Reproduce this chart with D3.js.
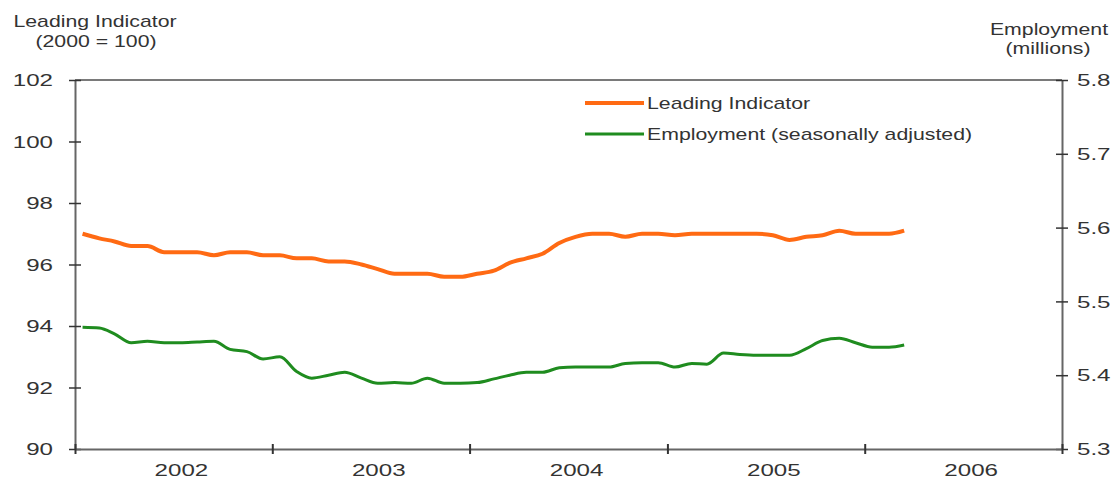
<!DOCTYPE html>
<html>
<head>
<meta charset="utf-8">
<script src="https://cdn.jsdelivr.net/npm/d3@7"></script>
<style>
  html, body { margin: 0; padding: 0; background: #fff; }
  svg { display: block; }
  text { font-family: "Liberation Sans", Arial, sans-serif; fill: #333; }
</style>
</head>
<body>
<svg id="chart" width="1115" height="482"></svg>
<script>
// ---------- data ----------
const months = [
  "2002-01","2002-02","2002-03","2002-04","2002-05","2002-06","2002-07","2002-08","2002-09","2002-10","2002-11","2002-12",
  "2003-01","2003-02","2003-03","2003-04","2003-05","2003-06","2003-07","2003-08","2003-09","2003-10","2003-11","2003-12",
  "2004-01","2004-02","2004-03","2004-04","2004-05","2004-06","2004-07","2004-08","2004-09","2004-10","2004-11","2004-12",
  "2005-01","2005-02","2005-03","2005-04","2005-05","2005-06","2005-07","2005-08","2005-09","2005-10","2005-11","2005-12",
  "2006-01","2006-02","2006-03"
];
const leadingIndicator = [
  97.0, 96.85, 96.75, 96.6, 96.6, 96.4, 96.4, 96.4, 96.3, 96.4, 96.4, 96.3,
  96.3, 96.2, 96.2, 96.1, 96.1, 96.0, 95.85, 95.7, 95.7, 95.7, 95.6, 95.6,
  95.7, 95.8, 96.05, 96.2, 96.35, 96.7, 96.9, 97.0, 97.0, 96.9, 97.0, 97.0,
  96.95, 97.0, 97.0, 97.0, 97.0, 97.0, 96.95, 96.8, 96.9, 96.95, 97.1, 97.0,
  97.0, 97.0, 97.1
];
const employment = [
  5.465, 5.464, 5.456, 5.444, 5.446, 5.444, 5.444, 5.445, 5.446, 5.435, 5.432, 5.422,
  5.425, 5.405, 5.396, 5.400, 5.404, 5.396, 5.389, 5.390, 5.389, 5.396, 5.389, 5.389,
  5.390, 5.395, 5.400, 5.404, 5.404, 5.410, 5.411, 5.411, 5.411, 5.416, 5.417, 5.417,
  5.411, 5.416, 5.415, 5.430, 5.428, 5.427, 5.427, 5.427, 5.436, 5.447, 5.450, 5.444,
  5.438, 5.438, 5.441
];
const yearLabels = ["2002", "2003", "2004", "2005", "2006"];
const yearBoundaries = ["2002", "2003", "2004", "2005", "2006", "2007"];
const leftTicks = [90, 92, 94, 96, 98, 100, 102];
const rightTicks = [5.3, 5.4, 5.5, 5.6, 5.7, 5.8];
const seriesNames = ["Leading Indicator", "Employment (seasonally adjusted)"];
const leftTitle = ["Leading Indicator", "(2000 = 100)"];
const rightTitle = ["Employment", "(millions)"];

// ---------- layout ----------
const L = 75, R = 1062, T = 80, B = 449;
const SX = 1.33;          // horizontal stretch of the text in the reference
const TSX = 1.42;
const orange = "#ff6a13", green = "#1f8c1f", axisCol = "#666";

const svg = d3.select("#chart");
const parseM = d3.timeParse("%Y-%m");
const parseY = d3.timeParse("%Y");

const x = d3.scaleTime()
  .domain([parseY(yearBoundaries[0]), parseY(yearBoundaries[yearBoundaries.length - 1])])
  .range([L, R]);
const yL = d3.scaleLinear().domain([90, 102]).range([B, T]);
const yR = d3.scaleLinear().domain([5.3, 5.8]).range([B, T]);

const midMonth = m => d3.timeDay.offset(parseM(m), 14);
const liData = months.map((m, i) => ({ d: midMonth(m), v: leadingIndicator[i] }));
const emData = months.map((m, i) => ({ d: midMonth(m), v: employment[i] }));

// top border
svg.append("line")
  .attr("x1", L).attr("x2", R).attr("y1", yL(102)).attr("y2", yL(102))
  .attr("stroke", "#7a7a7a").attr("stroke-width", 2);

// left axis
const gL = svg.append("g").attr("transform", `translate(${L},0)`)
  .call(d3.axisLeft(yL).tickValues(leftTicks).tickSizeInner(6).tickSizeOuter(0).tickFormat(d3.format("d")));
gL.select(".domain").attr("stroke", axisCol).attr("stroke-width", 2);
gL.selectAll(".tick line").attr("x1", 6).attr("x2", -6).attr("stroke", "#333").attr("stroke-width", 1.5);
gL.selectAll(".tick text")
  .attr("x", 0).attr("dy", "0.34em")
  .attr("transform", `translate(-22,0) scale(${TSX},1)`)
  .style("font-size", "17px").style("fill", "#333").attr("text-anchor", "end");

// right axis
const gR = svg.append("g").attr("transform", `translate(${R},0)`)
  .call(d3.axisRight(yR).tickValues(rightTicks).tickSizeInner(6).tickSizeOuter(0).tickFormat(d3.format(".1f")));
gR.select(".domain").attr("stroke", axisCol).attr("stroke-width", 2);
gR.selectAll(".tick line").attr("x1", -6).attr("x2", 6).attr("stroke", "#333").attr("stroke-width", 1.5);
gR.selectAll(".tick text")
  .attr("x", 0).attr("dy", "0.34em")
  .attr("transform", `translate(15,0) scale(${TSX},1)`)
  .style("font-size", "17px").style("fill", "#333").attr("text-anchor", "start");

// bottom axis (tick marks at year boundaries)
const gB = svg.append("g").attr("transform", `translate(0,${B})`)
  .call(d3.axisBottom(x).tickValues(yearBoundaries.map(parseY)).tickSizeInner(5).tickSizeOuter(0).tickFormat(""));
gB.select(".domain").attr("stroke", axisCol).attr("stroke-width", 2);
gB.selectAll(".tick line").attr("y1", -5).attr("y2", 5).attr("stroke", "#333").attr("stroke-width", 2);

// year labels, centred in each year
const gY = svg.append("g").attr("transform", `translate(0,${B})`)
  .call(d3.axisBottom(x).tickValues(yearLabels.map(y => d3.timeParse("%Y-%m-%d")(y + "-07-16"))).tickSize(0).tickFormat(d3.timeFormat("%Y")));
gY.select(".domain").remove();
gY.selectAll(".tick text")
  .attr("y", 0).attr("dy", 0)
  .attr("transform", `translate(0,27) scale(${TSX},1)`)
  .style("font-size", "17px").style("fill", "#333");

// lines
const lineL = d3.line().x(d => x(d.d)).y(d => yL(d.v)).curve(d3.curveMonotoneX);
const lineR = d3.line().x(d => x(d.d)).y(d => yR(d.v)).curve(d3.curveMonotoneX);
svg.append("path").datum(emData).attr("d", lineR)
  .attr("fill", "none").attr("stroke", green).attr("stroke-width", 3).attr("stroke-linejoin", "round");
svg.append("path").datum(liData).attr("d", lineL)
  .attr("fill", "none").attr("stroke", orange).attr("stroke-width", 4).attr("stroke-linejoin", "round");

// legend
const legend = [
  { name: seriesNames[0], color: orange, w: 4, y: 103 },
  { name: seriesNames[1], color: green, w: 3, y: 134 }
];
const lg = svg.append("g");
legend.forEach(it => {
  lg.append("line").attr("x1", 585).attr("x2", 644).attr("y1", it.y).attr("y2", it.y)
    .attr("stroke", it.color).attr("stroke-width", it.w);
  lg.append("text").attr("transform", `translate(647,${it.y + 6}) scale(${SX},1)`)
    .style("font-size", "16px").text(it.name);
});

// axis titles
const titles = [
  { t: leftTitle[0], x: 95, y: 27 }, { t: leftTitle[1], x: 96, y: 47 },
  { t: rightTitle[0], x: 1049, y: 35 }, { t: rightTitle[1], x: 1048, y: 54 }
];
titles.forEach(o => {
  svg.append("text").attr("transform", `translate(${o.x},${o.y}) scale(${SX},1)`)
    .attr("text-anchor", "middle").style("font-size", "16px").text(o.t);
});
</script>
</body>
</html>
